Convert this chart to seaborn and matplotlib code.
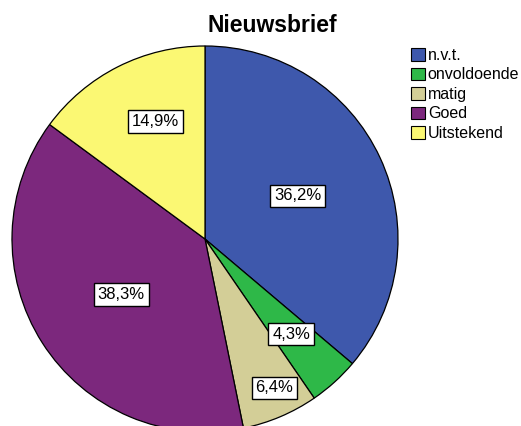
import numpy as np
import seaborn as sns
import matplotlib.pyplot as plt
from matplotlib.patches import Patch

# data
categories = ["n.v.t.", "onvoldoende", "matig", "Goed", "Uitstekend"]
counts = [17, 2, 3, 18, 7]
colors = ["#3E58AC", "#2EB848", "#D3CE97", "#7C287D", "#FBF873"]

sns.set_theme(style="white")
plt.rcParams['font.family'] = ['Liberation Sans', 'DejaVu Sans']
plt.rcParams['text.color'] = 'black'

fig = plt.figure(figsize=(5.21, 4.26), dpi=100)
# pie axes placed so the pie sits like in the SPSS output (cut at the bottom)
ax = fig.add_axes([12 / 521, (426 - 432) / 426, 386 / 521, 386 / 426])

pal = sns.color_palette(colors)
wedges, texts, autotexts = ax.pie(
    counts, colors=pal, startangle=90, counterclock=False,
    autopct=lambda p: f"{p:.1f}%".replace(".", ","),
    wedgeprops=dict(edgecolor="black", linewidth=0.9),
    textprops=dict(fontsize=12, color="black"))

# label distances per slice (SPSS puts them at different radii)
label_r = [0.53, 0.665, 0.85, 0.52, 0.66]
label_da = [0, 0, 2, 1, -4]
for w, t, r, da in zip(wedges, autotexts, label_r, label_da):
    ang = np.deg2rad((w.theta1 + w.theta2) / 2 + da)
    t.set_position((r * np.cos(ang), r * np.sin(ang)))
    t.set_bbox(dict(facecolor="white", edgecolor="black", linewidth=1.0,
                    boxstyle="square,pad=0.22"))

ax.set_xlim(-1, 1)
ax.set_ylim(-1, 1)

fig.text(272 / 521, 1 - 25 / 426, "Nieuwsbrief", ha="center", va="center",
         fontsize=16.5, fontweight="bold", color="black")

handles = [Patch(facecolor=c, edgecolor="black", linewidth=0.8) for c in pal]
fig.legend(handles, categories, loc="upper left", bbox_to_anchor=(411 / 521, 1 - 48 / 426),
           frameon=False, fontsize=11.5, handlelength=0.85, handleheight=0.85,
           handletextpad=0.2, labelspacing=0.28, borderaxespad=0, borderpad=0,
           labelcolor="black")

fig.savefig("out.png", dpi=100)
